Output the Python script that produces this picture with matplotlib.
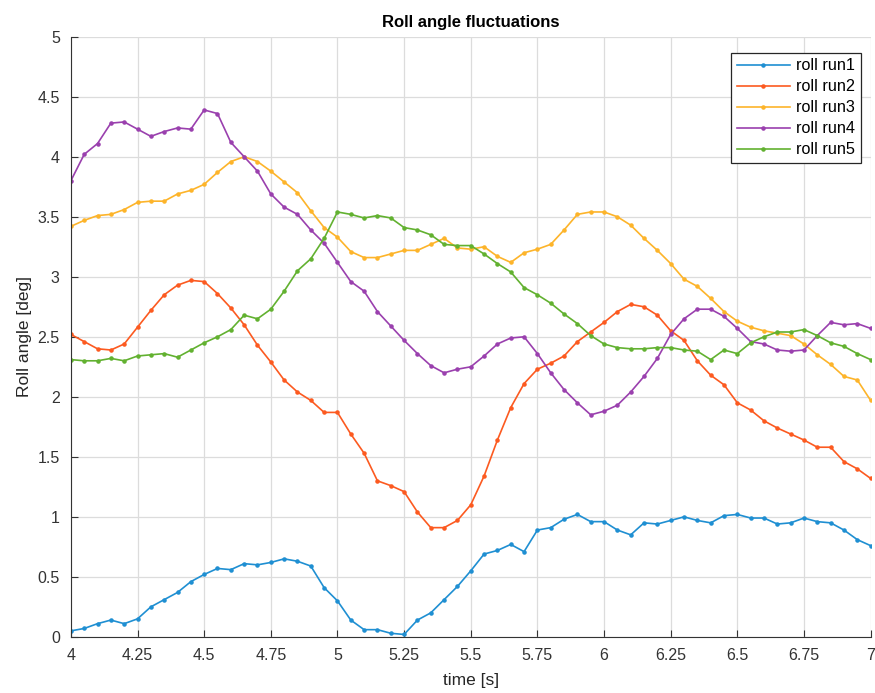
import numpy as np
import matplotlib.pyplot as plt
from matplotlib.ticker import FormatStrFormatter, MultipleLocator

plt.rcParams['font.family'] = ['Liberation Sans', 'DejaVu Sans']

t = np.round(np.arange(4.0, 7.0001, 0.05), 2)

roll1 = [0.05, 0.07, 0.11, 0.14, 0.11, 0.15, 0.25, 0.31, 0.37, 0.46, 0.52,
         0.57, 0.56, 0.61, 0.60, 0.62, 0.65, 0.63, 0.59, 0.41, 0.30,
         0.14, 0.06, 0.06, 0.03, 0.02, 0.14, 0.20, 0.31, 0.42, 0.55,
         0.69, 0.72, 0.77, 0.71, 0.89, 0.91, 0.98, 1.02, 0.96, 0.96,
         0.89, 0.85, 0.95, 0.94, 0.97, 1.00, 0.97, 0.95, 1.01, 1.02,
         0.99, 0.99, 0.94, 0.95, 0.99, 0.96, 0.95, 0.89, 0.81, 0.76]
roll2 = [2.52, 2.46, 2.40, 2.39, 2.44, 2.58, 2.72, 2.85, 2.93, 2.97, 2.96,
         2.86, 2.74, 2.60, 2.43, 2.29, 2.14, 2.04, 1.97, 1.87, 1.87,
         1.69, 1.53, 1.30, 1.26, 1.21, 1.04, 0.91, 0.91, 0.97, 1.10,
         1.34, 1.64, 1.91, 2.11, 2.23, 2.28, 2.34, 2.46, 2.54, 2.62,
         2.71, 2.77, 2.75, 2.68, 2.55, 2.47, 2.30, 2.18, 2.10, 1.95,
         1.89, 1.80, 1.74, 1.69, 1.64, 1.58, 1.58, 1.46, 1.40, 1.32]
roll3 = [3.42, 3.47, 3.51, 3.52, 3.56, 3.62, 3.63, 3.63, 3.69, 3.72, 3.77,
         3.87, 3.96, 4.00, 3.96, 3.88, 3.79, 3.70, 3.55, 3.41, 3.33,
         3.21, 3.16, 3.16, 3.19, 3.22, 3.22, 3.27, 3.32, 3.24, 3.23,
         3.25, 3.17, 3.12, 3.20, 3.23, 3.27, 3.39, 3.52, 3.54, 3.54,
         3.50, 3.43, 3.32, 3.22, 3.11, 2.98, 2.92, 2.82, 2.71, 2.63,
         2.58, 2.55, 2.53, 2.51, 2.44, 2.35, 2.27, 2.17, 2.14, 1.97]
roll4 = [3.80, 4.02, 4.11, 4.28, 4.29, 4.23, 4.17, 4.21, 4.24, 4.23, 4.39,
         4.36, 4.12, 4.00, 3.88, 3.69, 3.58, 3.52, 3.39, 3.28, 3.12,
         2.96, 2.88, 2.71, 2.59, 2.47, 2.36, 2.26, 2.20, 2.23, 2.25,
         2.34, 2.44, 2.49, 2.50, 2.36, 2.20, 2.06, 1.95, 1.85, 1.88,
         1.93, 2.04, 2.17, 2.32, 2.52, 2.65, 2.73, 2.73, 2.67, 2.57,
         2.46, 2.44, 2.39, 2.38, 2.39, 2.51, 2.62, 2.60, 2.61, 2.57]
roll5 = [2.31, 2.30, 2.30, 2.32, 2.30, 2.34, 2.35, 2.36, 2.33, 2.39, 2.45,
         2.50, 2.56, 2.68, 2.65, 2.73, 2.88, 3.05, 3.15, 3.32, 3.54,
         3.52, 3.49, 3.51, 3.49, 3.41, 3.39, 3.35, 3.27, 3.26, 3.26,
         3.19, 3.11, 3.04, 2.91, 2.85, 2.78, 2.69, 2.61, 2.51, 2.44,
         2.41, 2.40, 2.40, 2.41, 2.41, 2.39, 2.38, 2.31, 2.39, 2.36,
         2.45, 2.50, 2.54, 2.54, 2.56, 2.51, 2.45, 2.42, 2.36, 2.31]

labels = ['roll run1', 'roll run2', 'roll run3', 'roll run4', 'roll run5']
colors = ['#1f8fd2', '#fc5a20', '#fdb42a', '#9a40ae', '#62b130']

fig = plt.figure(figsize=(8.75, 6.93), dpi=100)
ax = fig.add_axes([0.081, 0.081, 0.914, 0.866])

for y, lab, c in zip([roll1, roll2, roll3, roll4, roll5], labels, colors):
    ax.plot(t, y, '.-', color=c, label=lab, linewidth=1.2, markersize=4.5)

ax.set_xlim(4, 7)
ax.set_ylim(0, 5)
ax.xaxis.set_major_locator(MultipleLocator(0.25))
ax.yaxis.set_major_locator(MultipleLocator(0.5))
ax.xaxis.set_major_formatter(FormatStrFormatter('%g'))
ax.yaxis.set_major_formatter(FormatStrFormatter('%g'))
ax.grid(True, color='#dcdcdc', linewidth=0.9)
ax.set_axisbelow(True)
ax.spines['top'].set_visible(False)
ax.spines['right'].set_visible(False)
ax.spines['left'].set_color('#333333')
ax.spines['bottom'].set_color('#333333')
ax.tick_params(direction='in', length=5, colors='#333333', labelsize=11.5, pad=8)

ax.set_title('Roll angle fluctuations', fontsize=12, fontweight='bold', pad=7)
ax.set_xlabel('time [s]', fontsize=12.5, color='#262626', labelpad=7)
ax.set_ylabel('Roll angle [deg]', fontsize=12.5, color='#262626')

leg = ax.legend(loc='upper right', bbox_to_anchor=(0.9935, 0.9815), fontsize=11.7,
                fancybox=False, framealpha=1, edgecolor='#262626',
                handlelength=3.3, handletextpad=0.35, borderpad=0.35,
                labelspacing=0.37, borderaxespad=0.3)
leg.get_frame().set_linewidth(0.9)

fig.savefig('out.png', dpi=100)
